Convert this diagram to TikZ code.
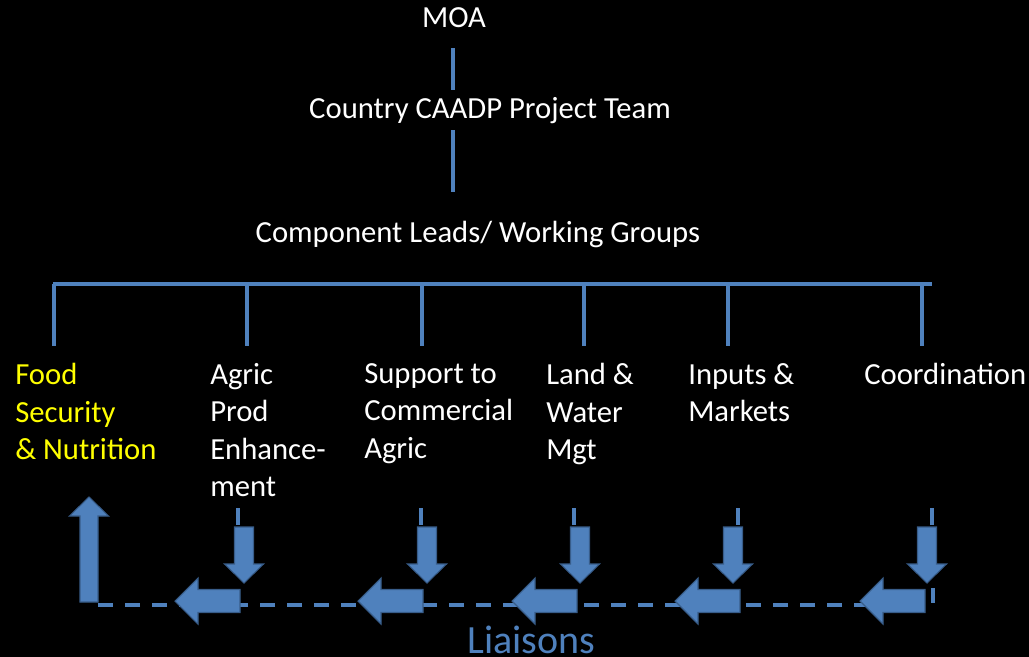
\documentclass[tikz,border=0pt]{standalone}
\usepackage{fontspec}
\setmainfont{Carlito}
\definecolor{lblue}{HTML}{4F81BD}
\definecolor{dblue}{HTML}{385D8A}
\definecolor{ytext}{HTML}{FFFF00}
\begin{document}
\begin{tikzpicture}[x=0.75pt,y=-0.75pt,
  txt/.style={text=white, font=\fontsize{23}{28.1}\selectfont, inner sep=0pt},
  lbl/.style={txt, align=left, anchor=north west},
  conn/.style={draw=lblue, line width=2.3pt},
  bus/.style={draw=lblue, line width=3pt},
  stub/.style={draw=lblue, line width=2.3pt},
  blk/.style={fill=lblue, draw=dblue, line width=0.8pt, line join=miter},
  liaison/.style={draw=lblue, line width=3.6pt, dash pattern=on 11.25pt off 9pt},
  downarr/.pic={\path[blk] (-9.5,0) -- (9.5,0) -- (9.5,37) -- (19.5,37) -- (0,56) -- (-19.5,37) -- (-9.5,37) -- cycle;},
  leftarr/.pic={\path[blk] (0,-11.5) -- (0,11.5) -- (-42,11.5) -- (-42,23) -- (-65,0) -- (-42,-23) -- (-42,-11.5) -- cycle;},
  uparr/.pic={\path[blk] (-9,0) -- (9,0) -- (9,-86) -- (19.5,-86) -- (0,-105) -- (-19.5,-86) -- (-9,-86) -- cycle;}
]
\fill[black] (0,0) rectangle (1029,657);
\useasboundingbox (0,0) rectangle (1029,657);

% hierarchy texts
\node[txt, anchor=base] (moa) at (454,27) {MOA};
\node[txt, anchor=base] (team) at (490,118) {Country CAADP Project Team};
\node[txt, anchor=base] (comp) at (478,242) {Component Leads/ Working Groups};

\coordinate (m1) at (453,48);
\coordinate (m2) at (453,90);
\coordinate (t1) at (453,130);
\coordinate (t2) at (453,192);
\draw[conn] (m1) -- (m2);
\draw[conn] (t1) -- (t2);

% bus
\coordinate (busL) at (53,284);
\coordinate (busR) at (932,284);
\draw[bus] (busL) -- (busR);

% component labels
\node[lbl, text=ytext] (food) at (15,363) {Food\\Security\\\& Nutrition};
\node[lbl] (agric) at (210,363) {Agric\\Prod\\Enhance-\\ment};
\node[lbl] (supp) at (364,363) {Support to\\Commercial\\Agric};
\node[lbl] (land) at (546,363) {Land \&\\Water\\Mgt};
\node[lbl] (inp) at (688,363) {Inputs \&\\Markets};
\node[lbl] (coord) at (864,363) {Coordination};

\foreach \x in {54,247,422,584,728,922}
  \draw[conn] (\x,284) -- (\x,346);

% liaison dashed path
\coordinate (lr) at (933,588);
\coordinate (lc) at (933,605);
\coordinate (ll) at (93,605);
\draw[liaison] (lr) -- (lc) -- (ll);

% stubs
\foreach \x in {238,421,574,738,932}
  \draw[stub] (\x,508) -- (\x,525);

% down arrows
\foreach \x in {244,427,580,733,927}
  \pic at (\x,527) {downarr};

% left arrows
\foreach \x in {240,423,577,740,925}
  \pic at (\x,601) {leftarr};

% up arrow
\pic at (89,602) {uparr};

\node[txt, text=lblue, font=\fontsize{30}{36}\selectfont, anchor=base west] (liai) at (467,653) {Liaisons};
\end{tikzpicture}
\end{document}
